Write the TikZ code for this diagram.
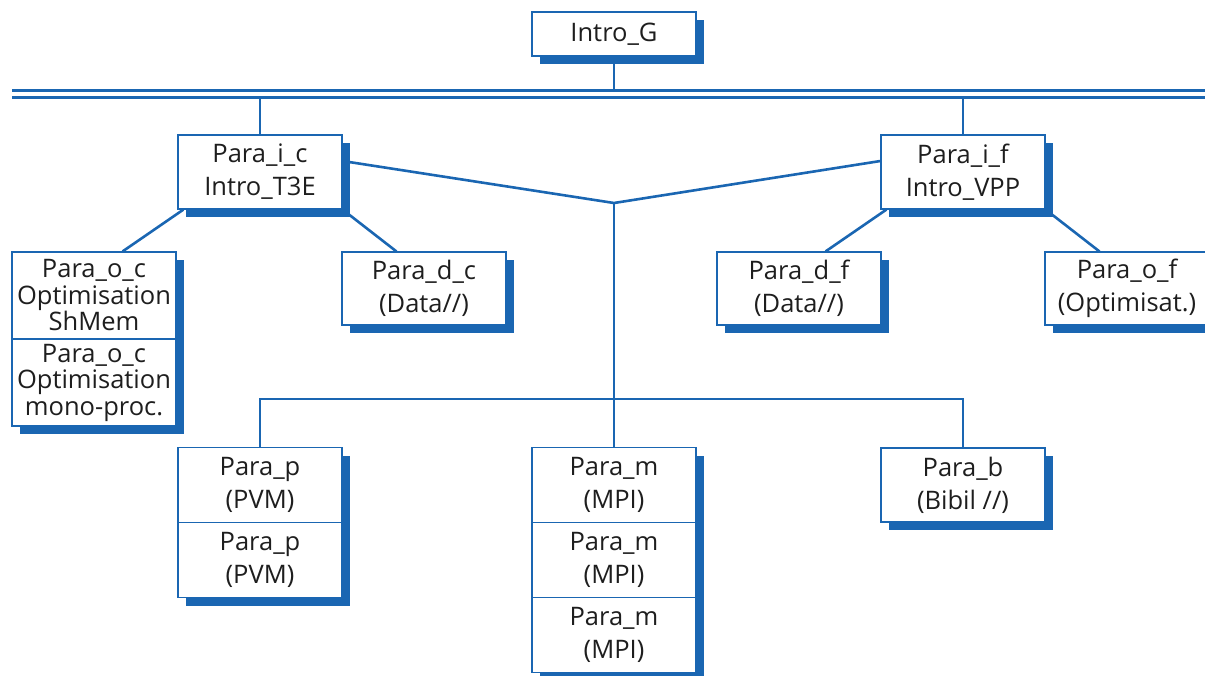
\documentclass[tikz,border=0pt]{standalone}
\usepackage{fontspec}
\setmainfont{Open Sans}
\usetikzlibrary{shadows,calc,backgrounds}
\definecolor{mblue}{RGB}{26,102,178}
\definecolor{mtext}{RGB}{30,30,30}
\begin{document}
\begin{tikzpicture}[x=1pt,y=-1pt,
  box/.style={draw=mblue, line width=1.1pt, fill=white, minimum width=164pt, inner sep=0pt,
    align=center, text=mtext, font=\fontsize{25.5}{33}\selectfont,
    drop shadow={shadow xshift=8pt, shadow yshift=-8pt, opacity=1, fill=mblue, draw=none}},
  tall/.style={font=\fontsize{25.5}{26.5}\selectfont, minimum height=87pt},
  two/.style={minimum height=74pt},
  conn/.style={draw=mblue, line width=2.6pt},
  bus/.style={draw=mblue, line width=3pt}]
\useasboundingbox (0,0) rectangle (1205,676);
\clip (0,0) rectangle (1205,676);

% boxes
\node[box, minimum height=44pt] (ig) at (614,34) {Intro\_G};
\node[box, two] (pic) at (260,172) {Para\_i\_c\\Intro\_T3E};
\node[box, two] (pif) at (963,172) {Para\_i\_f\\Intro\_VPP};
\node[box, tall] (poc1) at (94,295.5) {Para\_o\_c\\Optimisation\\ShMem};
\node[box, tall] (poc2) at (94,382.5) {Para\_o\_c\\Optimisation\\mono-proc.};
\node[box, minimum height=73pt] (pdc) at (424,288.5) {Para\_d\_c\\(Data//)};
\node[box, minimum height=73pt] (pdf) at (799,288.5) {Para\_d\_f\\(Data//)};
\node[box, minimum height=73pt] (pof) at (1127,288.5) {Para\_o\_f\\(Optimisat.)};
\node[box, minimum height=75pt] (pp1) at (260,485) {Para\_p\\(PVM)};
\node[box, minimum height=75pt] (pp2) at (260,560) {Para\_p\\(PVM)};
\node[box, minimum height=75pt] (pm1) at (614,485) {Para\_m\\(MPI)};
\node[box, minimum height=75pt] (pm2) at (614,560) {Para\_m\\(MPI)};
\node[box, minimum height=75pt] (pm3) at (614,635) {Para\_m\\(MPI)};
\node[box, minimum height=74pt] (pb) at (963,485) {Para\_b\\(Bibil //)};

% bus and junctions
\coordinate (busA) at (12,90.5);
\coordinate (busAe) at (1205,90.5);
\coordinate (busB) at (12,97.5);
\coordinate (busBe) at (1205,97.5);
\coordinate (J) at (614,203);
\coordinate (hub) at (614,399);

\begin{scope}[on background layer]
\draw[bus] (busA) -- (busAe);
\draw[bus] (busB) -- (busBe);
\draw[conn] (ig.south) -- (ig.south |- busA);
\draw[conn] (pic.north) -- (pic.north |- busB);
\draw[conn] (pif.north) -- (pif.north |- busB);
\draw[conn] ($(pic.east)+(0,-11)$) -- (J) -- ($(pif.west)+(0,-11)$);
\draw[conn] (J) -- (pm1.north);
\draw[conn] (pp1.north) -- (pp1.north |- hub) -- (pb.north |- hub) -- (pb.north);
\draw[conn] ($(pic.south west)+(6,0)$) -- ($(poc1.north east)+(-54,0)$);
\draw[conn] (pic.south east) -- ($(pdc.north west)+(55,0)$);
\draw[conn] ($(pif.south west)+(6,0)$) -- ($(pdf.north east)+(-56,0)$);
\draw[conn] (pif.south east) -- ($(pof.north west)+(55,0)$);
\end{scope}
\end{tikzpicture}
\end{document}
